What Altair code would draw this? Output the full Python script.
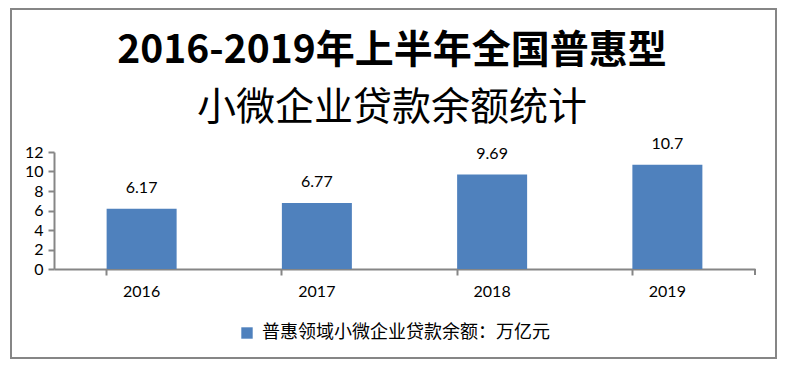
import altair as alt
import pandas as pd

years = ["2016", "2017", "2018", "2019"]
values = [6.17, 6.77, 9.69, 10.7]
series_name = "普惠领域小微企业贷款余额：万亿元"
title_line1 = "2016-2019年上半年全国普惠型"
title_line2 = "小微企业贷款余额统计"
y_ticks = [0, 2, 4, 6, 8, 10, 12]

df = pd.DataFrame({"year": years, "value": values, "series": [series_name] * len(years)})

GRAY = "#868686"
BLUE = "#4F81BD"
NUMFONT = "Lato"
CJK = "Noto Sans CJK SC"

W, H = 701, 117

base = alt.Chart(df)

xenc = alt.X("year:N", sort=years, title=None,
             scale=alt.Scale(paddingInner=0.6, paddingOuter=0.3),
             axis=alt.Axis(labelAngle=0, bandPosition=0, tickSize=6, tickWidth=2,
                           tickColor=GRAY, domainColor=GRAY, domainWidth=2,
                           labelFont=NUMFONT, labelFontSize=16, labelColor="black",
                           labelPadding=8))
yenc = alt.Y("value:Q", title=None, scale=alt.Scale(domain=[0, 12], nice=False),
             axis=alt.Axis(values=y_ticks, tickCount=7, grid=False, tickSize=6, tickWidth=2,
                           tickColor=GRAY, domainColor=GRAY, domainWidth=2,
                           labelFont=NUMFONT, labelFontSize=16, labelColor="black",
                           labelPadding=5, labelOverlap=False, labelFlush=False))

bars = base.mark_bar(size=70).encode(
    x=xenc,
    y=yenc,
    color=alt.Color("series:N", scale=alt.Scale(range=[BLUE]),
                    legend=alt.Legend(title=None, orient="none", legendX=184, legendY=172,
                                      symbolType="square", symbolSize=130,
                                      symbolStrokeWidth=0, symbolOpacity=1,
                                      labelFont=CJK, labelFontSize=18, labelColor="black",
                                      labelOffset=6, padding=0, labelLimit=500)),
)

labels = base.mark_text(baseline="middle", dy=-21, font=NUMFONT, fontSize=16, color="black").encode(
    x=xenc,
    y=yenc,
    text=alt.Text("value:Q"),
)

tdf = pd.DataFrame({"t1": [title_line1], "t2": [title_line2]})
t1 = alt.Chart(tdf).mark_text(font=CJK, fontSize=39, fontWeight="bold", color="black",
                               baseline="middle", align="center").encode(
    text="t1:N", x=alt.value(338), y=alt.value(-101))
t2 = alt.Chart(tdf).mark_text(font=CJK, fontSize=39, fontWeight="normal", color="black",
                               baseline="middle", align="center").encode(
    text="t2:N", x=alt.value(338), y=alt.value(-44))

# outer frame
frame = alt.Chart(tdf).mark_rect(fill="transparent", stroke=GRAY, strokeWidth=2, clip=False).encode(
    x=alt.value(-43), x2=alt.value(722), y=alt.value(-143), y2=alt.value(206))

end_tick = alt.Chart(tdf).mark_rule(color=GRAY, strokeWidth=2).encode(
    x=alt.value(W), y=alt.value(H), y2=alt.value(H + 6))

chart = alt.layer(frame, bars, labels, t1, t2, end_tick).properties(
    width=W, height=H,
    autosize=alt.AutoSizeParams(type="none"),
    padding={"left": 46, "top": 144, "right": 31, "bottom": 91},
    background="white",
).configure_view(strokeWidth=0)

chart.save("out.html", embed_options={"renderer": "svg", "actions": False})
